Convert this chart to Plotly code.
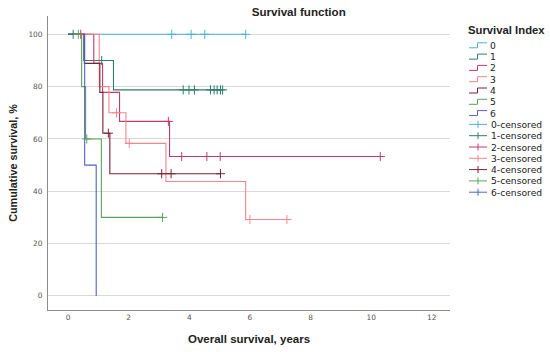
import plotly.graph_objects as go

# ---------------- data ----------------
groups = ["0", "1", "2", "3", "4", "5", "6"]
colors = ["#4DB3D3", "#2E7D6B", "#C23B6E", "#F4868F", "#7B2035", "#5BA35B", "#4F63C4"]

event_times = {
    "0": [],
    "1": [0.52, 1.50],
    "2": [0.85, 1.14, 1.70, 3.35],
    "3": [1.03, 1.35, 1.91, 3.23, 5.86],
    "4": [0.54, 1.05, 1.15, 1.38],
    "5": [0.45, 0.58, 1.10],
    "6": [0.55, 0.93],
}
event_surv = {
    "0": [],
    "1": [90.0, 78.75],
    "2": [88.9, 77.8, 66.7, 53.3],
    "3": [80.0, 70.0, 58.3, 43.75, 29.2],
    "4": [88.9, 77.8, 62.2, 46.7],
    "5": [80.0, 60.0, 30.0],
    "6": [50.0, 0.0],
}
censor_times = {
    "0": [3.42, 4.06, 4.51, 5.86],
    "1": [0.17, 1.11, 3.80, 3.99, 4.17, 4.70, 4.82, 4.92, 5.03, 5.10],
    "2": [0.42, 3.31, 3.75, 4.58, 5.02, 10.30],
    "3": [1.60, 2.02, 6.00, 7.22],
    "4": [1.33, 3.09, 3.40, 5.03],
    "5": [0.34, 0.62, 3.12],
    "6": [],
}

x_ticks = [0, 2, 4, 6, 8, 10, 12]
y_ticks = [0, 20, 40, 60, 80, 100]

# ---------------- layout geometry ----------------
W, H = 550, 352
ML, MR, MT, MB = 48, 100, 16, 42
PW, PH = W - ML - MR, H - MT - MB


def px(xp):
    return (xp - ML) / PW


def py(yp):
    return (H - MB - yp) / PH


def surv_at(g, t):
    s = 100.0
    for et, ev in zip(event_times[g], event_surv[g]):
        if et <= t:
            s = ev
    return s


fig = go.Figure()

for g, c in zip(groups, colors):
    end = max(event_times[g] + censor_times[g])
    xs = [0.0] + event_times[g] + [end]
    ys = [100.0] + event_surv[g] + [surv_at(g, end)]
    fig.add_trace(go.Scatter(x=xs, y=ys, mode="lines", line=dict(shape="hv", color=c, width=1.1),
                             name=g, showlegend=False, hoverinfo="skip"))

for g, c in zip(groups, colors):
    if not censor_times[g]:
        continue
    fig.add_trace(go.Scatter(x=censor_times[g], y=[surv_at(g, t) for t in censor_times[g]],
                             mode="markers",
                             marker=dict(symbol="cross-thin", size=6.5, line=dict(color=c, width=1)),
                             name=g + "-censored", showlegend=False))

# ---------------- custom compact legend ----------------
shapes = []
annotations = []
annotations.append(dict(text="<b>Survival Index</b>", x=px(466), y=py(30), xref="paper", yref="paper",
                        xanchor="left", yanchor="middle", showarrow=False,
                        font=dict(family="Liberation Sans", size=11.3, color="#222")))
labels = groups + [g + "-censored" for g in groups]
label_colors = colors + colors
for i, (lab, c) in enumerate(zip(labels, label_colors)):
    yc = 45.3 + 11.3 * i
    if i < len(groups):
        path = "M {:.5f},{:.5f} L {:.5f},{:.5f} L {:.5f},{:.5f} L {:.5f},{:.5f}".format(
            px(469), py(yc + 2.5), px(477.5), py(yc + 2.5), px(477.5), py(yc - 2.5), px(487), py(yc - 2.5))
        shapes.append(dict(type="path", path=path, xref="paper", yref="paper",
                           line=dict(color=c, width=1)))
    else:
        shapes.append(dict(type="line", x0=px(469), x1=px(487), y0=py(yc), y1=py(yc),
                           xref="paper", yref="paper", line=dict(color=c, width=1)))
        shapes.append(dict(type="line", x0=px(478), x1=px(478), y0=py(yc - 3.5), y1=py(yc + 3.5),
                           xref="paper", yref="paper", line=dict(color=c, width=1)))
    annotations.append(dict(text=lab, x=px(488.5), y=py(yc), xref="paper", yref="paper",
                            xanchor="left", yanchor="middle", showarrow=False,
                            font=dict(family="DejaVu Sans", size=9.2, color="#222")))

fig.update_layout(
    width=W, height=H,
    margin=dict(l=ML, r=MR, t=MT, b=MB, pad=0, autoexpand=False),
    paper_bgcolor="white", plot_bgcolor="white",
    showlegend=False,
    title=dict(text="<b>Survival function</b>", x=px(298.7), xref="paper", xanchor="center",
               y=1 - 12 / H, yref="container", yanchor="middle",
               font=dict(family="Liberation Sans", size=11.6, color="#222")),
    xaxis=dict(range=[-0.66, 12.6], tickvals=x_ticks, showgrid=False, zeroline=False,
               showline=True, linecolor="#8c8c8c", linewidth=1, ticks="", automargin=False,
               tickfont=dict(family="DejaVu Sans", size=7.4, color="#555"),
               title=dict(text="<b>Overall survival, years</b>", standoff=14,
                          font=dict(family="Liberation Sans", size=11.5, color="#222"))),
    yaxis=dict(range=[-5.4, 107], tickvals=y_ticks, showgrid=True, gridcolor="#d9d9d9", gridwidth=1,
               zeroline=False, showline=True, linecolor="#8c8c8c", linewidth=1, ticks="",
               automargin=False, ticklabelstandoff=3,
               tickfont=dict(family="DejaVu Sans", size=7.4, color="#555"),
               title=dict(text="<b>Cumulative survival, %</b>", standoff=8,
                          font=dict(family="Liberation Sans", size=10.8, color="#222"))),
    shapes=shapes,
    annotations=annotations,
)

fig.write_html("out.html", config={"displayModeBar": False},
               post_script="document.body.style.margin='0';document.body.style.overflow='hidden';")
